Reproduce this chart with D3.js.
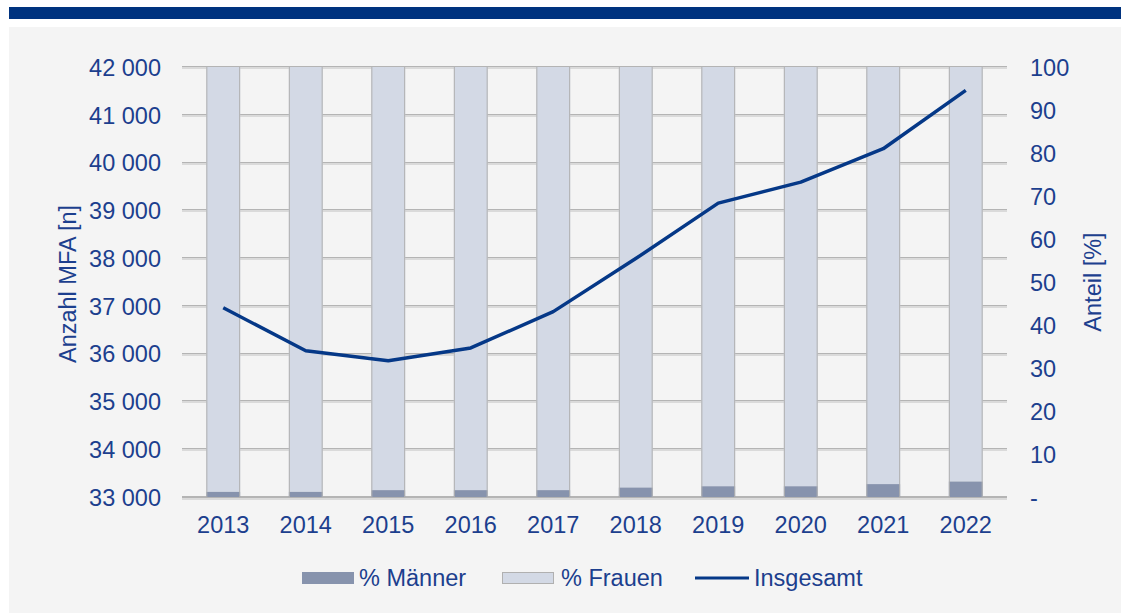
<!DOCTYPE html>
<html>
<head>
<meta charset="utf-8">
<script src="https://cdn.jsdelivr.net/npm/d3@7/dist/d3.min.js"></script>
<style>
  html, body { margin: 0; padding: 0; background: #ffffff; }
  svg { display: block; font-family: "Liberation Sans", Arial, sans-serif; }
</style>
</head>
<body>
<svg id="chart" width="1121" height="613"></svg>
<script>
// ---- data ----
const years = ["2013","2014","2015","2016","2017","2018","2019","2020","2021","2022"];
const maennerPct = [1.2, 1.2, 1.6, 1.6, 1.6, 2.2, 2.5, 2.5, 3.0, 3.6];
const frauenPct  = [98.8, 98.8, 98.4, 98.4, 98.4, 97.8, 97.5, 97.5, 97.0, 96.4];
const insgesamt  = [36960, 36060, 35850, 36120, 36880, 37990, 39150, 39590, 40290, 41510];
const leftTicks  = [33000, 34000, 35000, 36000, 37000, 38000, 39000, 40000, 41000, 42000];
const rightTicks = [0, 10, 20, 30, 40, 50, 60, 70, 80, 90, 100];
const legendLabels = ["% Männer", "% Frauen", "Insgesamt"];

const textColor = "#1c3f8e";
const lineColor = "#053887";
const fontSize = "23.5px";
const svg = d3.select("#chart");

// background
svg.append("rect").attr("x", 9).attr("y", 7).attr("width", 1112).attr("height", 12).attr("fill", "#00337f");
svg.append("rect").attr("x", 9).attr("y", 27).attr("width", 1112).attr("height", 586).attr("fill", "#f4f4f4");

const x = d3.scaleBand().domain(years).range([182, 1007]).paddingInner(0.59).paddingOuter(0.295);
const yL = d3.scaleLinear().domain([33000, 42000]).range([497, 67]);
const yR = d3.scaleLinear().domain([0, 100]).range([497, 67]);

// gridlines
const grid = svg.append("g");
leftTicks.forEach(t => {
  grid.append("line").attr("x1", 182).attr("x2", 1007)
    .attr("y1", Math.round(yL(t)) - 0.5).attr("y2", Math.round(yL(t)) - 0.5)
    .attr("stroke", "#b4b4b4").attr("stroke-width", 1);
  grid.append("line").attr("x1", 182).attr("x2", 1007)
    .attr("y1", Math.round(yL(t)) + 1).attr("y2", Math.round(yL(t)) + 1)
    .attr("stroke", "#dadada").attr("stroke-width", 2);
});

// bars
const bars = svg.append("g");
years.forEach((yr, i) => {
  const bx = x(yr), bw = x.bandwidth();
  const yM = yR(maennerPct[i]);
  const yF = yR(maennerPct[i] + frauenPct[i]);
  bars.append("rect").attr("x", bx).attr("y", yF).attr("width", bw).attr("height", yM - yF)
    .attr("fill", "#d3d9e5");
  bars.append("rect").attr("x", bx).attr("y", yM).attr("width", bw).attr("height", yR(0) - yM)
    .attr("fill", "#8793ad");
  bars.append("line").attr("x1", bx + 0.5).attr("x2", bx + 0.5).attr("y1", yF).attr("y2", yR(0))
    .attr("stroke", "#b0b0b0");
  bars.append("line").attr("x1", bx + bw - 0.5).attr("x2", bx + bw - 0.5).attr("y1", yF).attr("y2", yR(0))
    .attr("stroke", "#b0b0b0");
});

// axis base
svg.append("line").attr("x1", 182).attr("x2", 1007).attr("y1", 497.5).attr("y2", 497.5)
  .attr("stroke", "#b4b4b4").attr("stroke-width", 1);
svg.append("line").attr("x1", 182).attr("x2", 1007).attr("y1", 499).attr("y2", 499)
  .attr("stroke", "#dadada").attr("stroke-width", 2);

// left axis
const fmt = v => d3.format(",")(v).replace(/,/g, " ");
const axL = d3.axisLeft(yL).tickValues(leftTicks).tickFormat(fmt).tickSize(0).tickPadding(0);
const gL = svg.append("g").attr("transform", "translate(161,0)").call(axL);
gL.select(".domain").remove();
gL.selectAll("text").attr("fill", textColor).style("font-size", fontSize)
  .style("font-family", "'Liberation Sans', Arial, sans-serif").attr("dy", "0.35em");

// right axis
const axR = d3.axisRight(yR).tickValues(rightTicks).tickFormat(v => v === 0 ? "-" : v).tickSize(0).tickPadding(0);
const gR = svg.append("g").attr("transform", "translate(1030,0)").call(axR);
gR.select(".domain").remove();
gR.selectAll("text").attr("fill", textColor).style("font-size", fontSize)
  .style("font-family", "'Liberation Sans', Arial, sans-serif").attr("dy", "0.35em");

// bottom axis
const axB = d3.axisBottom(x).tickSize(0).tickPadding(0);
const gB = svg.append("g").attr("transform", "translate(0,516)").call(axB);
gB.select(".domain").remove();
gB.selectAll("text").attr("fill", textColor).style("font-size", fontSize)
  .style("font-family", "'Liberation Sans', Arial, sans-serif").attr("dy", "0.72em");

// line
const line = d3.line().x((d, i) => x(years[i]) + x.bandwidth() / 2).y(d => yL(d));
svg.append("path").datum(insgesamt).attr("d", line).attr("fill", "none")
  .attr("stroke", lineColor).attr("stroke-width", 3.5).attr("stroke-linejoin", "round");

// axis titles
svg.append("text").attr("transform", "translate(68,284) rotate(-90)").attr("text-anchor", "middle")
  .attr("dy", "0.35em").attr("fill", textColor).style("font-size", fontSize).text("Anzahl MFA [n]");
svg.append("text").attr("transform", "translate(1093,282) rotate(-90)").attr("text-anchor", "middle")
  .attr("dy", "0.35em").attr("fill", textColor).style("font-size", fontSize).text("Anteil [%]");

// legend
const leg = svg.append("g");
leg.append("rect").attr("x", 302).attr("y", 572).attr("width", 52).attr("height", 12).attr("fill", "#8793ad");
leg.append("text").attr("x", 359).attr("y", 578).attr("dy", "0.35em").attr("fill", textColor)
  .style("font-size", fontSize).text(legendLabels[0]);
leg.append("rect").attr("x", 502.5).attr("y", 572.5).attr("width", 51).attr("height", 11).attr("fill", "#d3d9e5")
  .attr("stroke", "#b0b0b0");
leg.append("text").attr("x", 561).attr("y", 578).attr("dy", "0.35em").attr("fill", textColor)
  .style("font-size", fontSize).text(legendLabels[1]);
leg.append("line").attr("x1", 695).attr("x2", 749).attr("y1", 578).attr("y2", 578)
  .attr("stroke", lineColor).attr("stroke-width", 3);
leg.append("text").attr("x", 754).attr("y", 578).attr("dy", "0.35em").attr("fill", textColor)
  .style("font-size", fontSize).text(legendLabels[2]);
</script>
</body>
</html>
